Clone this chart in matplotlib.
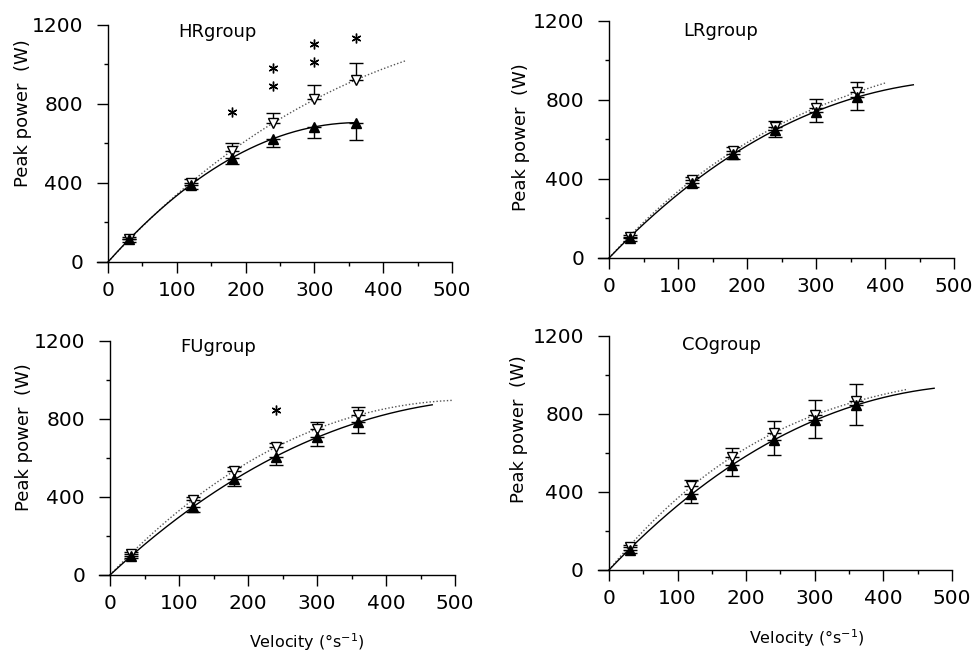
import numpy as np
import matplotlib
matplotlib.use('Agg')
import matplotlib.pyplot as plt
from matplotlib.ticker import MultipleLocator

velocity = [30, 120, 180, 240, 300, 360]
groups = ['HRgroup', 'LRgroup', 'FUgroup', 'COgroup']

# filled triangles (error bars downward)
hr_filled = [115, 390, 525, 625, 685, 705]
hr_filled_err = [12, 20, 28, 42, 57, 88]
lr_filled = [100, 380, 526, 647, 740, 816]
lr_filled_err = [12, 18, 27, 33, 50, 67]
fu_filled = [97, 347, 490, 607, 706, 783]
fu_filled_err = [10, 22, 32, 43, 44, 57]
co_filled = [102, 392, 537, 665, 768, 845]
co_filled_err = [15, 47, 56, 73, 91, 103]

# open triangles (error bars upward)
hr_open = [118, 400, 560, 705, 825, 920]
hr_open_err = [10, 20, 42, 49, 69, 87]
lr_open = [108, 394, 542, 664, 757, 842]
lr_open_err = [10, 14, 18, 28, 46, 50]
fu_open = [108, 385, 535, 655, 749, 820]
fu_open_err = [10, 14, 21, 24, 34, 43]
co_open = [117, 432, 580, 703, 793, 865]
co_open_err = [10, 29, 48, 61, 77, 90]

# how far each fitted curve is drawn (velocity)
filled_curve_end = [360, 441, 467, 474]
open_curve_end = [432, 400, 496, 436]

# significance stars
hr_star_x = [180, 240, 240, 300, 300, 360]
hr_star_y = [758, 893, 982, 1011, 1105, 1134]
fu_star_x = [240]
fu_star_y = [846]

filled_all = [hr_filled, lr_filled, fu_filled, co_filled]
filled_err_all = [hr_filled_err, lr_filled_err, fu_filled_err, co_filled_err]
open_all = [hr_open, lr_open, fu_open, co_open]
open_err_all = [hr_open_err, lr_open_err, fu_open_err, co_open_err]
stars = [(hr_star_x, hr_star_y), ([], []), (fu_star_x, fu_star_y), ([], [])]

# axes placement [left, bottom, width, height]
positions = [
    [0.0994, 0.5982, 0.3637, 0.3635],
    [0.6127, 0.6043, 0.3648, 0.3635],
    [0.1014, 0.1181, 0.3648, 0.3589],
    [0.6127, 0.1258, 0.3627, 0.3589],
]
ylabel_pos = [(-0.183, 0.63), (-0.19, 0.51), (-0.185, 0.59), (-0.198, 0.60)]
group_text = [(102, 1163), (107, 1149), (102, 1167), (107, 1152)]
xlabel_pos = [None, None, (0.584, -0.286), (0.59, -0.29)]


def fit_curve(v, p, end):
    # cubic through the origin, P = a*v + b*v^2 + c*v^3
    v = np.asarray(v, float) / 100.0
    A = np.column_stack([v, v ** 2, v ** 3])
    coef, *_ = np.linalg.lstsq(A, np.asarray(p, float), rcond=None)
    xs = np.linspace(0, end, 200)
    u = xs / 100.0
    return xs, coef[0] * u + coef[1] * u ** 2 + coef[2] * u ** 3


fig = plt.figure(figsize=(9.76, 6.52), dpi=100)

for i in range(4):
    ax = fig.add_axes(positions[i])

    xs, ys = fit_curve(velocity, open_all[i], open_curve_end[i])
    ax.plot(xs, ys, ls=(0, (1, 1.5)), color='#555555', lw=1.0)
    xs, ys = fit_curve(velocity, filled_all[i], filled_curve_end[i])
    ax.plot(xs, ys, '-', color='black', lw=1.0)

    ax.errorbar(velocity, open_all[i], yerr=[[0] * 6, open_err_all[i]],
                fmt='v', ms=7, mfc='white', mec='black', mew=1.0,
                ecolor='black', elinewidth=1.0, capsize=5, capthick=1.0,
                clip_on=False)
    ax.errorbar(velocity, filled_all[i], yerr=[filled_err_all[i], [0] * 6],
                fmt='^', ms=7, mfc='black', mec='black',
                ecolor='black', elinewidth=1.0, capsize=5, capthick=1.0,
                clip_on=False)

    sx, sy = stars[i]
    if sx:
        ax.plot(sx, sy, ls='none', marker=(6, 2, 0), ms=7, mew=1.0,
                color='black', clip_on=False)

    gx, gy = group_text[i]
    ax.text(gx, gy, groups[i], fontsize=13, ha='left', va='center')

    ax.set_xlim(-16, 500)
    ax.set_ylim(0, 1200)
    ax.spines['top'].set_visible(False)
    ax.spines['right'].set_visible(False)
    ax.spines['left'].set_position(('data', 0))
    ax.spines['left'].set_linewidth(1.0)
    ax.spines['bottom'].set_linewidth(1.0)

    ax.xaxis.set_major_locator(MultipleLocator(100))
    ax.xaxis.set_minor_locator(MultipleLocator(50))
    ax.yaxis.set_major_locator(MultipleLocator(400))
    ax.yaxis.set_minor_locator(MultipleLocator(200))
    ax.tick_params(axis='x', which='major', direction='out', length=8, width=1.0,
                   pad=6, labelsize=14.5)
    ax.tick_params(axis='x', which='minor', direction='out', length=3, width=1.0)
    ax.tick_params(axis='y', which='major', direction='out', length=8, width=1.0,
                   pad=10, labelsize=14.5)
    ax.tick_params(axis='y', which='minor', direction='out', length=3, width=1.0)

    ax.set_ylabel('Peak power  (W)', fontsize=13)
    ax.yaxis.set_label_coords(*ylabel_pos[i])
    if xlabel_pos[i] is not None:
        ax.set_xlabel('Velocity (°s$^{-1}$)', fontsize=11.5, va='center')
        ax.xaxis.set_label_coords(*xlabel_pos[i])

fig.savefig('out.png', dpi=100)
